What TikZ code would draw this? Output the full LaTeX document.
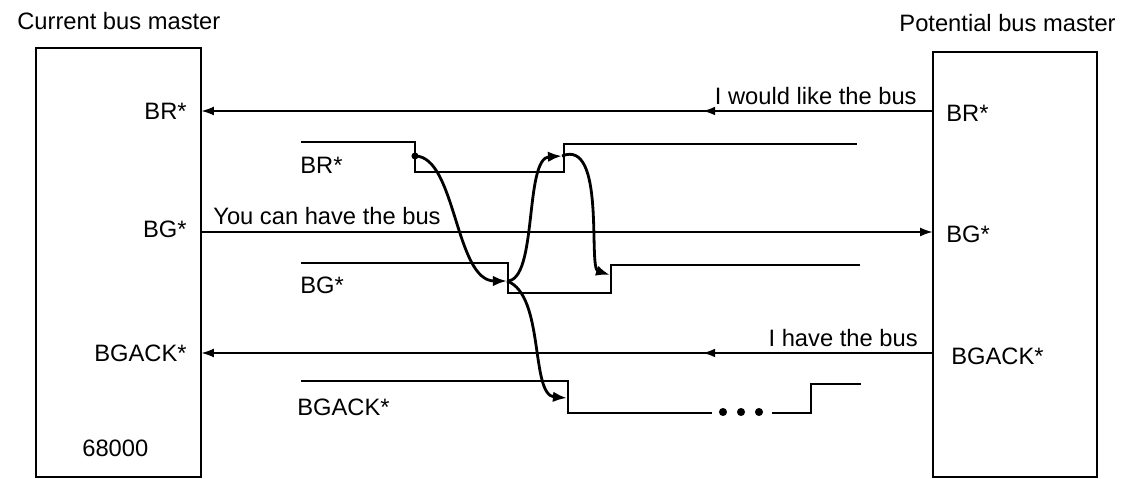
\documentclass[tikz,border=0pt]{standalone}
\usepackage{fontspec}
\setmainfont{Liberation Sans}
\usetikzlibrary{arrows.meta,decorations.markings}

\begin{document}
\begin{tikzpicture}[x=0.02cm, y=-0.02cm,
    every node/.style={font=\fontsize{13.5pt}{16pt}\selectfont, inner sep=0pt},
    master/.style={draw, line width=0.7pt},
    sig/.style={line width=0.6pt, -{Latex[length=7pt,width=5pt]}},
    midarrow/.style={postaction={decorate, decoration={markings,
        mark=at position #1 with {\arrow{Latex[length=7pt,width=5pt]}}}}},
    wave/.style={line width=0.6pt},
    handshake/.style={line width=1.6pt, -{Latex[length=8pt,width=6pt]}}]
    \useasboundingbox (0,0) rectangle (1127,479);
    % the two bus masters
    \node[anchor=west] (curTitle) at (17,21) {Current bus master};
    \node[anchor=east] (potTitle) at (1116,23) {Potential bus master};
    \node[master, minimum width=3.3cm, minimum height=8.58cm] (cur) at (118.5,262.5) {};
    \node[master, minimum width=3.28cm, minimum height=8.5cm] (pot) at (1015,264.5) {};
    \node[anchor=east] (curBR) at (187,111) {BR*};
    \node[anchor=east] (curBG) at (187,229) {BG*};
    \node[anchor=east] (curACK) at (187,353) {BGACK*};
    \node[anchor=west] (cpu) at (82,448) {68000};
    \node[anchor=west] (potBR) at (946,113) {BR*};
    \node[anchor=west] (potBG) at (946,234) {BG*};
    \node[anchor=west] (potACK) at (951,356) {BGACK*};

    % bus lines between them
    \coordinate (br) at (0,111);
    \coordinate (bg) at (0,232);
    \coordinate (ack) at (0,353);
    \draw[sig, midarrow=0.314] (pot.west |- br) -- (cur.east |- br);
    \draw[sig] (cur.east |- bg) -- (pot.west |- bg);
    \draw[sig, midarrow=0.314] (pot.west |- ack) -- (cur.east |- ack);
    \node[anchor=east] (want) at (917,96) {I would like the bus};
    \node[anchor=west] (grant) at (213,216) {You can have the bus};
    \node[anchor=east] (have) at (918,338) {I have the bus};

    % timing of the three signals
    \draw[wave] (301,142) -| (415,172) -| (564,144) -- (857,144);
    \node[anchor=west] (wBR) at (300,165) {BR*};
    \draw[wave] (301,263) -| (508,293) -| (611,265) -- (860,265);
    \node[anchor=west] (wBG) at (300,285) {BG*};
    \draw[wave] (301,381) -| (568,413) -- (712,413);
    \foreach \x in {723,741,759}
        \fill (\x,412) circle (2.3pt);
    \draw[wave] (772,413) -| (811,384) -- (861,384);
    \node[anchor=west] (wACK) at (297,407) {BGACK*};

    % cause and effect between the edges
    \coordinate (brFall) at (415,156);
    \coordinate (bgFall) at (507,281);
    \coordinate (brRise) at (562,156);
    \coordinate (bgRise) at (610,275);
    \coordinate (ackFall) at (567,398);
    \fill (brFall) circle (2pt);
    \draw[handshake] (brFall) .. controls (456,156) and (455,281) .. (bgFall);
    \draw[handshake] (bgFall) .. controls (538,281) and (524,158) .. (brRise);
    \draw[handshake] (brRise) .. controls (606,138) and (588,268) .. (bgRise);
    \draw[handshake] (bgFall) .. controls (545,295) and (530,395) .. (ackFall);
\end{tikzpicture}
\end{document}
